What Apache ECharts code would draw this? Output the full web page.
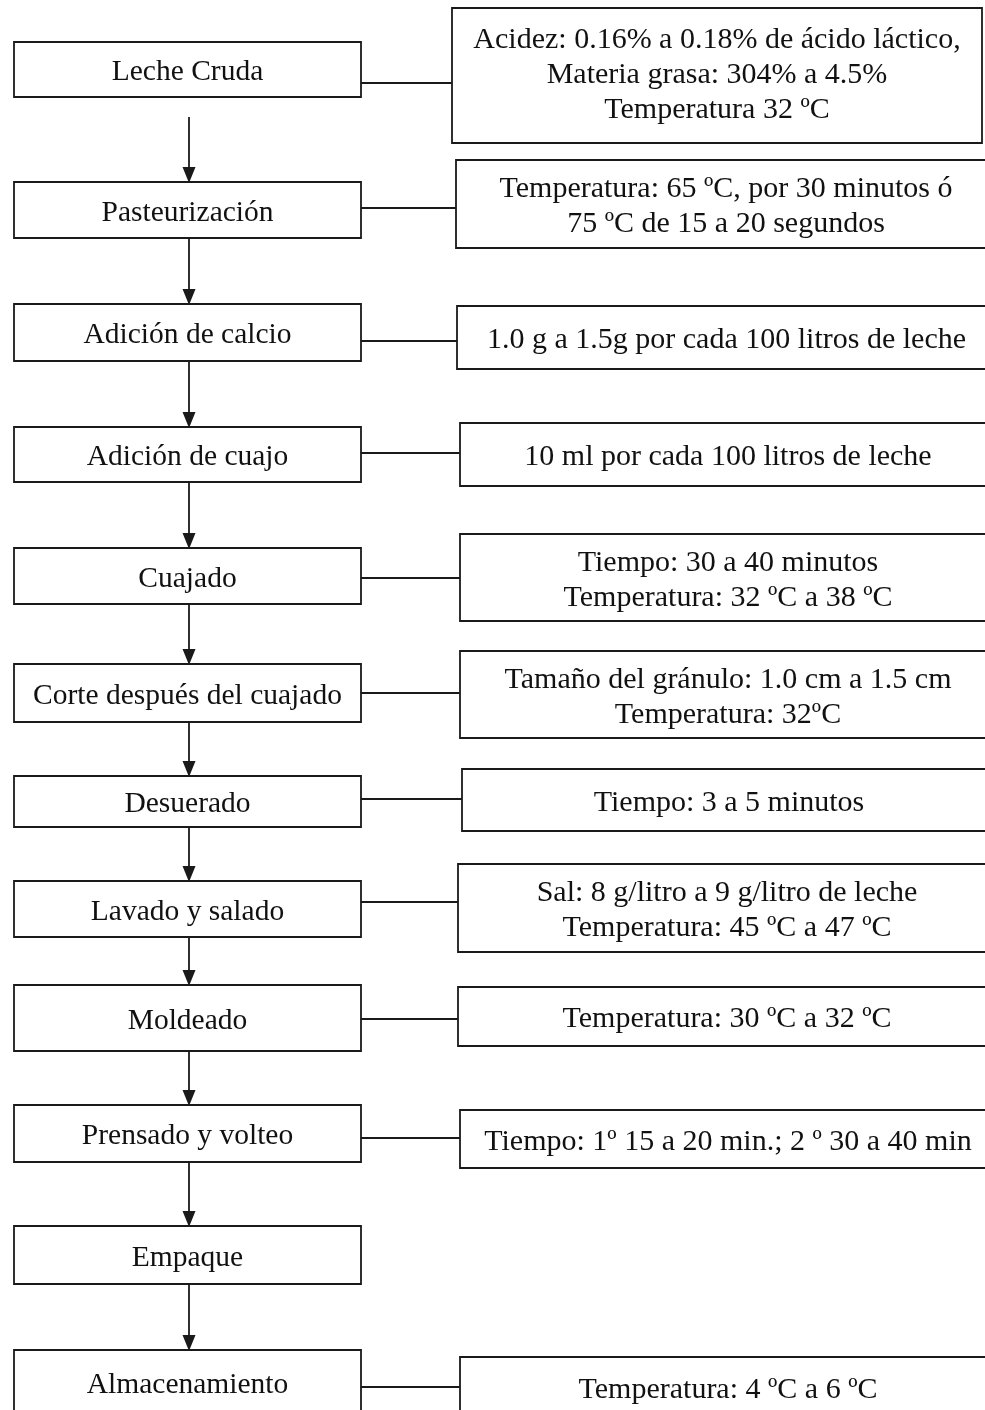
<!DOCTYPE html>
<html>
<head>
<meta charset="utf-8">
<style>
html,body{margin:0;padding:0;background:#fff;}
#main{width:985px;height:1410px;}
</style>
<script src="https://cdn.jsdelivr.net/npm/echarts@6/dist/echarts.min.js"></script>
</head>
<body>
<div id="main"></div>
<script>
// pasos del proceso (columna izquierda)
var pasos=["Leche Cruda","Pasteurización","Adición de calcio","Adición de cuajo","Cuajado",
    "Corte después del cuajado","Desuerado","Lavado y salado","Moldeado","Prensado y volteo",
    "Empaque","Almacenamiento"];
// condiciones de cada paso (columna derecha), "" = sin recuadro
var condiciones=[
    "Acidez: 0.16% a 0.18% de ácido láctico,\nMateria grasa: 304% a 4.5%\nTemperatura 32 ºC",
    "Temperatura: 65 ºC, por 30 minutos ó\n75 ºC de 15 a 20 segundos",
    "1.0 g a 1.5g por cada 100 litros de leche",
    "10 ml por cada 100 litros de leche",
    "Tiempo: 30 a 40 minutos\nTemperatura: 32 ºC a 38 ºC",
    "Tamaño del gránulo: 1.0 cm a 1.5 cm\nTemperatura: 32ºC",
    "Tiempo: 3 a 5 minutos",
    "Sal: 8 g/litro a 9 g/litro de leche\nTemperatura: 45 ºC a 47 ºC",
    "Temperatura: 30 ºC a 32 ºC",
    "Tiempo: 1º 15 a 20 min.; 2 º 30 a 40 min",
    "",
    "Temperatura: 4 ºC a 6 ºC"
];

///////////////////////////////////////////
// disposicion: filas en unidades del eje y (invertido)
var filaArriba=[42,182,304,427,548,664,776,881,985,1105,1226,1350];
var filaAbajo=[97,238,361,482,604,722,827,937,1051,1162,1284,1414];
var notaArriba=[8,160,306,423,534,651,769,864,987,1110,0,1357];
var notaAbajo=[143,248,369,486,621,738,831,952,1046,1168,0,1418];
var notaIzq=[452,456,457,460,460,460,462,458,458,460,0,460];
var notaDer=[982,996,996,996,996,996,996,996,996,996,0,996];
var enlaceY=[83,208,341,453,578,693,799,902,1019,1138,0,1387];
var flechaDesde=[117,238,361,482,604,722,827,937,1051,1162,1284];
var cajaX=[14,361];
var flechaX=189;

var tinta="#1a1a1a";
var grosor=1.8;
var letra='"Liberation Serif","Times New Roman",serif';

var cajaPaso=function (params,api) {
    var a=api.coord([cajaX[0],api.value(0)]);
    var b=api.coord([cajaX[1],api.value(1)]);
    return {type:"group",children:[
        {type:"rect",shape:{x:a[0],y:a[1],width:b[0]-a[0],height:b[1]-a[1]},
            style:{fill:"#fff",stroke:tinta,lineWidth:grosor}},
        {type:"text",x:(a[0]+b[0])/2,y:(a[1]+Math.min(b[1],api.getHeight()+4))/2+3,
            style:{text:pasos[params.dataIndex],align:"center",verticalAlign:"middle",
                font:'29.5px '+letra,fill:"#111"}}
    ]};
};
var cajaNota=function (params,api) {
    var i=params.dataIndex;
    if(!condiciones[i]) return;
    var a=api.coord([notaIzq[i],api.value(0)]);
    var b=api.coord([notaDer[i],api.value(1)]);
    var c=api.coord([cajaX[1],enlaceY[i]]);
    var yc=(a[1]+Math.min(b[1],api.getHeight()+8))/2+3;
    if(i===0) yc-=3;
    return {type:"group",children:[
        {type:"line",shape:{x1:c[0],y1:c[1],x2:a[0],y2:c[1]},style:{stroke:tinta,lineWidth:grosor}},
        {type:"rect",shape:{x:a[0],y:a[1],width:b[0]-a[0],height:b[1]-a[1]},
            style:{fill:"#fff",stroke:tinta,lineWidth:grosor}},
        {type:"text",x:(a[0]+b[0])/2,y:yc,
            style:{text:condiciones[i],align:"center",verticalAlign:"middle",
                font:'30px '+letra,lineHeight:35,fill:"#111"}}
    ]};
};
var flecha=function (params,api) {
    var a=api.coord([flechaX,api.value(0)]);
    var b=api.coord([flechaX,api.value(1)]);
    return {type:"group",children:[
        {type:"line",shape:{x1:a[0],y1:a[1],x2:b[0],y2:b[1]-10},style:{stroke:tinta,lineWidth:grosor}},
        {type:"polygon",shape:{points:[[b[0]-6.5,b[1]-15],[b[0]+6.5,b[1]-15],[b[0],b[1]+1]]},
            style:{fill:tinta}}
    ]};
};

var flujoChart=echarts.init(document.getElementById("main"));
var flujoOption={
    backgroundColor:"#fff",
    animation:false,
    grid:{left:0,right:0,top:0,bottom:0},
    xAxis:{type:"value",min:0,max:985,show:false},
    yAxis:{type:"value",min:0,max:1410,inverse:true,show:false},
    series:[
        {name:"flechas",
            type:"custom",
            renderItem:flecha,
            data:flechaDesde.map(function (y,i) {return [y,filaArriba[i+1]]})
        },
        {name:"condiciones",
            type:"custom",
            renderItem:cajaNota,
            data:condiciones.map(function (t,i) {return [notaArriba[i],notaAbajo[i]]})
        },
        {name:"pasos",
            type:"custom",
            renderItem:cajaPaso,
            data:pasos.map(function (p,i) {return [filaArriba[i],filaAbajo[i]]})
        }
    ]
};
flujoChart.setOption(flujoOption);
</script>
</body>
</html>
